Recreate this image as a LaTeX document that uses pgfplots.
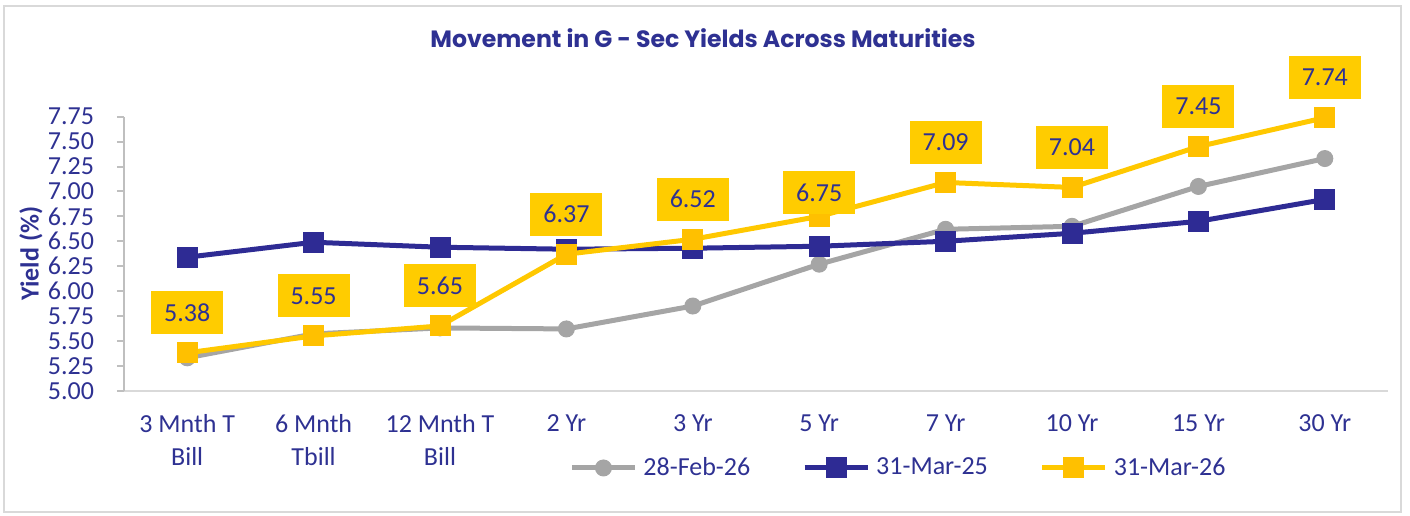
\documentclass[border=0pt]{standalone}
\usepackage{fontspec}
\setmainfont{Carlito}
\newfontfamily\titlefont{Poppins}
\usepackage{pgfplots}
\pgfplotsset{compat=1.18}
\definecolor{txtblue}{HTML}{2E3192}
\definecolor{serblue}{HTML}{2E2B94}
\definecolor{sergray}{HTML}{A5A5A5}
\definecolor{seryel}{HTML}{FFC800}
\definecolor{markyel}{HTML}{FFC000}
\definecolor{boxyel}{HTML}{FFCC00}
\definecolor{framegray}{HTML}{D9D9D9}
\definecolor{axgray}{HTML}{BFBFBF}
\pgfplotsset{/pgf/number format/assume math mode=true}
\begin{document}
\begin{tikzpicture}
\useasboundingbox (0,0) rectangle (705pt,-257.5pt);
\draw[framegray, line width=1pt] (2pt,-3pt) rectangle (700.5pt,-256pt);
\node[anchor=base, font=\titlefont\bfseries\fontsize{11.8}{14}\selectfont, text=txtblue] at (351.5pt,-23.5pt) {Movement in G - Sec Yields Across Maturities};
\begin{axis}[
 scale only axis, width=632pt, height=137pt,
 at={(62pt,-195.35pt)}, anchor=south west,
 xmin=-0.5, xmax=9.5, ymin=5, ymax=7.75,
 clip=false,
 axis x line*=bottom, axis y line*=left,
 x axis line style={draw=framegray, line width=1pt, -},
 y axis line style={draw=axgray, line width=1pt, -},
 xtick={0,...,9},
 xticklabels={{3 Mnth T\\Bill},{6 Mnth\\Tbill},{12 Mnth T\\Bill},2 Yr,3 Yr,5 Yr,7 Yr,10 Yr,15 Yr,30 Yr},
 xtick style={draw=none},
 xticklabel style={align=center, font=\fontsize{13}{16.5}\selectfont, text=txtblue, yshift=-5pt},
 ytick={5,5.25,5.5,5.75,6,6.25,6.5,6.75,7,7.25,7.5,7.75},
 yticklabel style={/pgf/number format/fixed, /pgf/number format/fixed zerofill, /pgf/number format/precision=2, font=\fontsize{13}{15}\selectfont, text=txtblue, xshift=-8pt},
 ytick style={draw=axgray, line width=1pt},
 tick align=outside, major tick length=3.5pt,
 ylabel={\bfseries Yield (\%)},
 ylabel style={at={(axis description cs:-0.0736,0.5)}, anchor=center, font=\fontsize{13}{15}\selectfont, text=txtblue},
 legend columns=3,
 legend style={at={(0.6135,-0.282)}, anchor=center, draw=none, fill=none, font=\fontsize{13}{15}\selectfont, text=txtblue, column sep=1pt, /tikz/every even column/.append style={column sep=24pt}},
 legend image code/.code={\draw[mark repeat=2,mark phase=2,#1] plot coordinates {(0pt,0pt) (15.75pt,0pt) (31.5pt,0pt)};},
 every node near coord/.style={fill=boxyel, text=txtblue, font=\fontsize{13}{15}\selectfont, minimum width=36pt, minimum height=21.5pt, inner sep=2pt, anchor=center},
 nodes near coords={\pgfmathprintnumber[fixed,fixed zerofill,precision=2]{\pgfplotspointmeta}},
]
\addplot[sergray, line width=2.5pt, mark=*, mark size=4pt, mark options={fill=sergray, draw=sergray, line width=0.5pt}, nodes near coords={}, every node near coord/.style={draw=none,fill=none}] coordinates {
(0,5.33) (1,5.57) (2,5.63) (3,5.62) (4,5.85) (5,6.27) (6,6.62) (7,6.65) (8,7.05) (9,7.33)};
\addlegendentry{28-Feb-26}
\addplot[serblue, line width=2.5pt, mark=square*, mark size=5pt, mark options={fill=serblue, draw=serblue, line width=0.5pt}, nodes near coords={}, every node near coord/.style={draw=none,fill=none}] coordinates {
(0,6.34) (1,6.49) (2,6.44) (3,6.42) (4,6.43) (5,6.45) (6,6.50) (7,6.58) (8,6.70) (9,6.92)};
\addlegendentry{31-Mar-25}
\addplot[seryel, line width=2.5pt, mark=square*, mark size=5pt, mark options={fill=markyel, draw=markyel, line width=0.5pt}, nodes near coords={}, every node near coord/.style={draw=none,fill=none}] coordinates {
(0,5.38) (1,5.55) (2,5.65) (3,6.37) (4,6.52) (5,6.75) (6,7.09) (7,7.04) (8,7.45) (9,7.74)};
\addlegendentry{31-Mar-26}
\addplot[draw=none, mark=none, forget plot, every node near coord/.append style={yshift=20pt}] coordinates {
(0,5.38) (1,5.55) (2,5.65) (3,6.37) (4,6.52) (6,7.09) (7,7.04) (8,7.45) (9,7.74)};
\addplot[draw=none, mark=none, forget plot, every node near coord/.append style={yshift=12pt}] coordinates {
(5,6.75)};
\end{axis}
\end{tikzpicture}
\end{document}
